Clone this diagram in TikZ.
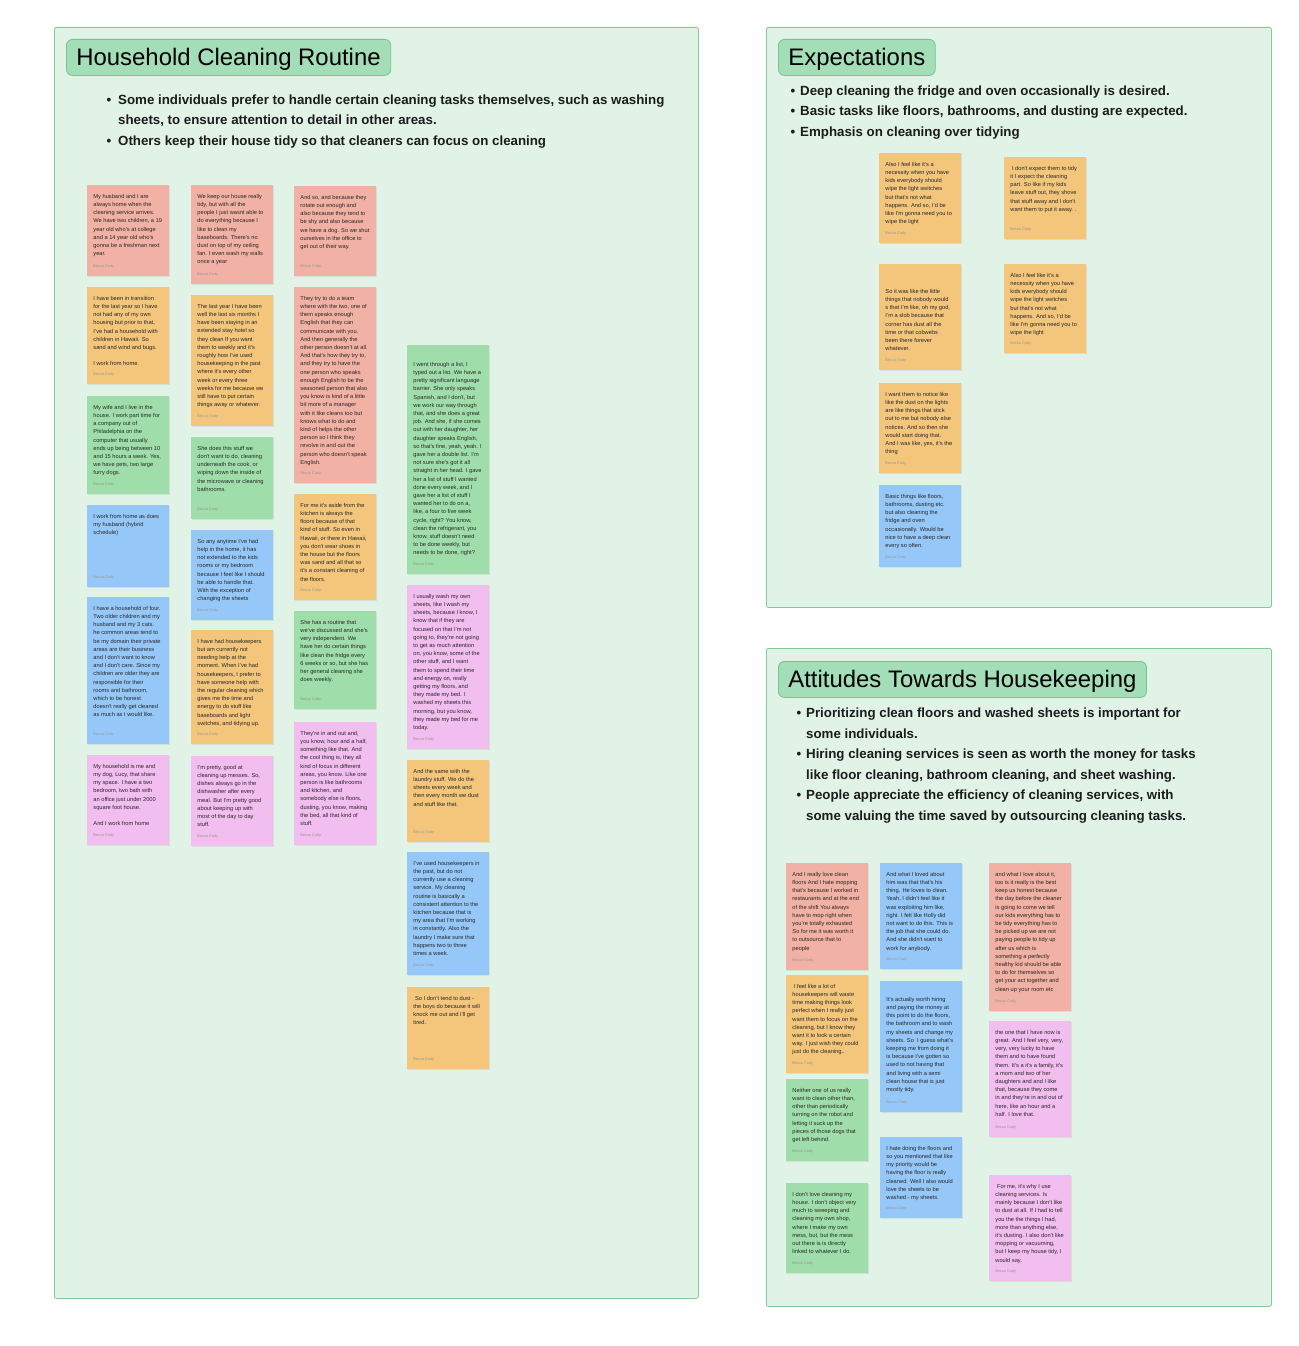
\documentclass[tikz,border=0pt]{standalone}
\usepackage{fontspec}
\setmainfont{Liberation Sans}
\usetikzlibrary{shadows}
\definecolor{stickyred}{RGB}{241,177,164}
\definecolor{stickyorange}{RGB}{243,198,124}
\definecolor{stickygreen}{RGB}{159,222,170}
\definecolor{stickyblue}{RGB}{149,200,248}
\definecolor{stickypink}{RGB}{242,190,239}
\definecolor{panelfill}{RGB}{225,242,231}
\definecolor{paneldraw}{RGB}{128,204,150}
\definecolor{tagfill}{RGB}{164,222,184}
\definecolor{tagdraw}{RGB}{118,196,140}
\definecolor{notegray}{RGB}{40,40,40}
\definecolor{authorgray}{RGB}{150,150,150}
\definecolor{bullettext}{RGB}{28,28,28}
\newcommand{\sticky}[7][0]{%
  \node[note,fill=#6,minimum height=#5pt] (#2) at (#3,#4) {};
  \node[notetext] (#2t) at ([xshift=6.25pt,yshift=-9pt-#1pt]#2.north west) {#7};
  \node[noteauthor] (#2a) at ([xshift=6.25pt,yshift=7.5pt]#2.south west) {Becca Cody};}
\begin{document}
\begin{tikzpicture}[x=1pt,y=-1pt,
  panel/.style={draw=paneldraw,fill=panelfill,rounded corners=2pt,line width=0.8pt,anchor=north west,inner sep=0pt},
  tag/.style={draw=tagdraw,fill=tagfill,rounded corners=6pt,line width=0.8pt,anchor=north west,minimum height=36pt,inner xsep=10pt,text height=16.7pt,text depth=0pt,font=\fontsize{23.9}{28}\selectfont},
  bullets/.style={anchor=north west,align=left,inner sep=0pt,text=bullettext,font=\fontsize{13.3}{20.5}\selectfont\bfseries},
  note/.style={anchor=north west,minimum width=82pt,inner sep=0pt,drop shadow={opacity=0.15,shadow xshift=0.6pt,shadow yshift=-1.2pt}},
  notetext/.style={anchor=north west,align=left,inner sep=0pt,text=notegray,font=\fontsize{5.7}{8.2}\selectfont},
  noteauthor/.style={anchor=south west,inner sep=0pt,text=authorgray,font=\fontsize{3.8}{4.5}\selectfont}]
\path[use as bounding box,fill=white] (0,0) rectangle (1298,1346);

\node[panel,minimum width=644pt,minimum height=1271pt] (household) at (54,27) {};
\node[panel,minimum width=505pt,minimum height=580pt] (expect) at (766,27) {};
\node[panel,minimum width=505pt,minimum height=658pt] (attitude) at (766,648) {};

\node[tag] (householdtag) at (66,39) {Household Cleaning Routine};
\node[tag] (expecttag) at (778,39) {Expectations};
\node[tag] (attitudetag) at (778,661) {Attitudes Towards Housekeeping};

\node[bullets] (householdbul) at (118,94.5) {\llap{\textbullet\hspace{7pt}}Some individuals prefer to handle certain cleaning tasks themselves, such as washing\\
sheets, to ensure attention to detail in other areas.\\
\llap{\textbullet\hspace{7pt}}Others keep their house tidy so that cleaners can focus on cleaning};
\node[bullets] (expectbul) at (800,85.5) {\llap{\textbullet\hspace{5pt}}Deep cleaning the fridge and oven occasionally is desired.\\
\llap{\textbullet\hspace{5pt}}Basic tasks like floors, bathrooms, and dusting are expected.\\
\llap{\textbullet\hspace{5pt}}Emphasis on cleaning over tidying};
\node[bullets] (attitudebul) at (806,708) {\llap{\textbullet\hspace{5pt}}Prioritizing clean floors and washed sheets is important for\\
some individuals.\\
\llap{\textbullet\hspace{5pt}}Hiring cleaning services is seen as worth the money for tasks\\
like floor cleaning, bathroom cleaning, and sheet washing.\\
\llap{\textbullet\hspace{5pt}}People appreciate the efficiency of cleaning services, with\\
some valuing the time saved by outsourcing cleaning tasks.};

\sticky{ha1}{87}{185}{91}{stickyred}{My husband and I are\\always home when the\\cleaning service arrives.\\We have two children, a 19\\year old who's at college\\and a 14 year old who's\\gonna be a freshman next\\year.}
\sticky{ha2}{87}{287}{97}{stickyorange}{I have been in transition\\for the last year so I have\\not had any of my own\\housing but prior to that,\\I've had a household with\\children in Hawaii. So\\sand and wind and bugs.\\[8.2pt]I work from home.}
\sticky{ha3}{87}{396}{98}{stickygreen}{My wife and I live in the\\house. I work part time for\\a company out of\\Philadelphia on the\\computer that usually\\ends up being between 10\\and 15 hours a week. Yes,\\we have pets, two large\\furry dogs.}
\sticky{ha4}{87}{505}{82}{stickyblue}{I work from home as does\\my husband (hybrid\\schedule)}
\sticky{ha5}{87}{597}{147}{stickyblue}{I have a household of four.\\Two older children and my\\husband and my 3 cats.\\he common areas tend to\\be my domain their private\\areas are their business\\and I don't want to know\\and I don't care. Since my\\children are older they are\\responsible for their\\rooms and bathroom,\\which to be honest\\doesn't really get cleaned\\as much as I would like.}
\sticky{ha6}{87}{755}{90}{stickypink}{My household is me and\\my dog, Lucy, that share\\my space. I have a two\\bedroom, two bath with\\an office just under 2000\\square foot house.\\[8.2pt]And I work from home}

\sticky{hb1}{191}{185}{99}{stickyred}{We keep our house really\\tidy, but with all the\\people I just wasnt able to\\do everything because I\\like to clean my\\baseboards. There's no\\dust on top of my ceiling\\fan. I even wash my walls\\once a year}
\sticky{hb2}{191}{295}{131}{stickyorange}{The last year I have been\\well the last six months I\\have been staying in an\\extended stay hotel so\\they clean If you want\\them to weekly and it's\\roughly how I've used\\housekeeping in the past\\where it's every other\\week or every three\\weeks for me because we\\still have to put certain\\things away or whatever.}
\sticky{hb3}{191}{437}{82}{stickygreen}{She does this stuff we\\don't want to do, cleaning\\underneath the cook, or\\wiping down the inside of\\the microwave or cleaning\\bathrooms.}
\sticky{hb4}{191}{530}{90}{stickyblue}{So any anytime I've had\\help in the home, it has\\not extended to the kids\\rooms or my bedroom\\because I feel like I should\\be able to handle that.\\With the exception of\\changing the sheets}
\sticky{hb5}{191}{630}{114}{stickyorange}{I have had housekeepers\\but am currently not\\needing help at the\\moment. When I've had\\housekeepers, I prefer to\\have someone help with\\the regular cleaning which\\gives me the time and\\energy to do stuff like\\baseboards and light\\switches, and tidying up.}
\sticky{hb6}{191}{756}{90}{stickypink}{I'm pretty, good at\\cleaning up messes. So,\\dishes always go in the\\dishwasher after every\\meal. But I'm pretty good\\about keeping up with\\most of the day to day\\stuff.}

\sticky{hc1}{294}{186}{90}{stickyred}{And so, and because they\\rotate out enough and\\also because they tend to\\be shy and also because\\we have a dog. So we shut\\ourselves in the office to\\get out of their way.}
\sticky{hc2}{294}{287}{196}{stickyred}{They try to do a team\\where with the two, one of\\them speaks enough\\English that they can\\communicate with you.\\And then generally the\\other person doesn't at all.\\And that's how they try to,\\and they try to have the\\one person who speaks\\enough English to be the\\seasoned person that also\\you know is kind of a little\\bit more of a manager\\with it like cleans too but\\knows what to do and\\kind of helps the other\\person so I think they\\revolve in and out the\\person who doesn't speak\\English.}
\sticky{hc3}{294}{494}{106}{stickyorange}{For me it's aside from the\\kitchen is always the\\floors because of that\\kind of stuff. So even in\\Hawaii, or there in Hawaii,\\you don't wear shoes in\\the house but the floors\\was sand and all that so\\it's a constant cleaning of\\the floors.}
\sticky{hc4}{294}{611}{98}{stickygreen}{She has a routine that\\we've discussed and she's\\very independent. We\\have her do certain things\\like clean the fridge every\\6 weeks or so, but she has\\her general cleaning she\\does weekly.}
\sticky{hc5}{294}{722}{123}{stickypink}{They're in and out and,\\you know, hour and a half,\\something like that. And\\the cool thing is, they all\\kind of focus in different\\areas, you know. Like one\\person is like bathrooms\\and kitchen, and\\somebody else is floors,\\dusting, you know, making\\the bed, all that kind of\\stuff.}

\sticky[8]{hd1}{407}{345}{229}{stickygreen}{I went through a list, I\\typed out a list. We have a\\pretty significant language\\barrier. She only speaks\\Spanish, and I don't, but\\we work our way through\\that, and she does a great\\job. And she, if she comes\\out with her daughter, her\\daughter speaks English,\\so that's fine, yeah, yeah. I\\gave her a double list. I'm\\not sure she's got it all\\straight in her head. I gave\\her a list of stuff I wanted\\done every week, and I\\gave her a list of stuff I\\wanted her to do on a,\\like, a four to five week\\cycle, right? You know,\\clean the refrigerant, you\\know, stuff doesn't need\\to be done weekly, but\\needs to be done, right?}
\sticky{hd2}{407}{585}{164}{stickypink}{I usually wash my own\\sheets, like I wash my\\sheets, because I know, I\\know that if they are\\focused on that I'm not\\going to, they're not going\\to get as much attention\\on, you know, some of the\\other stuff, and I want\\them to spend their time\\and energy on, really\\getting my floors, and\\they made my bed. I\\washed my sheets this\\morning, but you know,\\they made my bed for me\\today.}
\sticky{hd3}{407}{760}{82}{stickyorange}{And the same with the\\laundry stuff. We do the\\sheets every week and\\then every month we dust\\and stuff like that.}
\sticky{hd4}{407}{852}{123}{stickyblue}{I've used housekeepers in\\the past, but do not\\currently use a cleaning\\service. My cleaning\\routine is basically a\\consistent attention to the\\kitchen because that is\\my area that I'm working\\in constantly. Also the\\laundry I make sure that\\happens two to three\\times a week.}
\sticky{hd5}{407}{987}{82}{stickyorange}{\ So I don't tend to dust -\\the boys do because it will\\knock me out and I'll get\\tired.}

\sticky{ea1}{879}{153}{90}{stickyorange}{Also I feel like it's a\\necessity when you have\\kids everybody should\\wipe the light switches\\but that's not what\\happens. And so, I'd be\\like I'm gonna need you to\\wipe the light}
\sticky[16]{ea2}{879}{264}{106}{stickyorange}{So it was like the little\\things that nobody would\\s that I'm like, oh my god,\\I'm a slob because that\\corner has dust all the\\time or that cobwebs\\been there forever\\whatever.}
\sticky{ea3}{879}{383}{90}{stickyorange}{I want them to notice like\\like the dust on the lights\\are like things that stick\\out to me but nobody else\\notices. And so then she\\would start doing that.\\And I was like, yes, it's the\\thing}
\sticky{ea4}{879}{485}{82}{stickyblue}{Basic things like floors,\\bathrooms, dusting etc.\\but also cleaning the\\fridge and oven\\occasionally. Would be\\nice to have a deep clean\\every so often.}
\sticky{eb1}{1004}{157}{82}{stickyorange}{\ I don't expect them to tidy\\it I expect the cleaning\\part. So like if my kids\\leave stuff out, they shove\\that stuff away and I don't\\want them to put it away. .}
\sticky{eb2}{1004}{264}{89}{stickyorange}{Also I feel like it's a\\necessity when you have\\kids everybody should\\wipe the light switches\\but that's not what\\happens. And so, I'd be\\like I'm gonna need you to\\wipe the light}

\sticky{aa1}{786}{863}{107}{stickyred}{And I really love clean\\floors And I hate mopping\\that's because I worked in\\restaurants and at the end\\of the shift You always\\have to mop right when\\you're totally exhausted\\So for me it was worth it\\to outsource that to\\people}
\sticky{aa2}{786}{975}{98}{stickyorange}{\ I feel like a lot of\\housekeepers will waste\\time making things look\\perfect when I really just\\want them to focus on the\\cleaning, but I know they\\want it to look a certain\\way. I just wish they could\\just do the cleaning..}
\sticky{aa3}{786}{1079}{82}{stickygreen}{Neither one of us really\\want to clean other than,\\other than periodically\\turning on the robot and\\letting it suck up the\\pieces of those dogs that\\get left behind.}
\sticky{aa4}{786}{1183}{90}{stickygreen}{I don't love cleaning my\\house. I don't object very\\much to sweeping and\\cleaning my own shop,\\where I make my own\\mess, but, but the mess\\out there is is directly\\linked to whatever I do.}
\sticky{ab1}{880}{863}{106}{stickyblue}{And what I loved about\\him was that that's his\\thing. He loves to clean.\\Yeah, I didn't feel like it\\was exploiting him like,\\right. I felt like Holly did\\not want to do this. This is\\the job that she could do.\\And she didn't want to\\work for anybody.}
\sticky[7]{ab2}{880}{981}{131}{stickyblue}{It's actually worth hiring\\and paying the money at\\this point to do the floors,\\the bathroom and to wash\\my sheets and change my\\sheets. So\ \ I guess what's\\keeping me from doing it\\is because I've gotten so\\used to not having that\\and living with a semi\\clean house that is just\\mostly tidy.}
\sticky{ab3}{880}{1137}{81}{stickyblue}{I hate doing the floors and\\so you mentioned that like\\my priority would be\\having the floor is really\\cleaned. Well I also would\\love the sheets to be\\washed - my sheets.}
\sticky{ac1}{989}{863}{148}{stickyred}{and what I love about it,\\too is it really is the best\\keep us honest because\\the day before the cleaner\\is going to come we tell\\our kids everything has to\\be tidy everything has to\\be picked up we are not\\paying people to tidy up\\after us which is\\something a perfectly\\healthy kid should be able\\to do for themselves so\\get your act together and\\clean up your room etc}
\sticky{ac2}{989}{1021}{116}{stickypink}{the one that I have now is\\great. And I feel very, very,\\very, very lucky to have\\them and to have found\\them. It's a it's a family, it's\\a mom and two of her\\daughters and and I like\\that, because they come\\in and they're in and out of\\here, like an hour and a\\half. I love that.}
\sticky{ac3}{989}{1175}{106}{stickypink}{\ For me, it's why I use\\cleaning services. Is\\mainly because I don't like\\to dust at all. If I had to tell\\you the the things I had,\\more than anything else,\\it's dusting. I also don't like\\mopping or vacuuming,\\but I keep my house tidy, I\\would say.}
\end{tikzpicture}
\end{document}
